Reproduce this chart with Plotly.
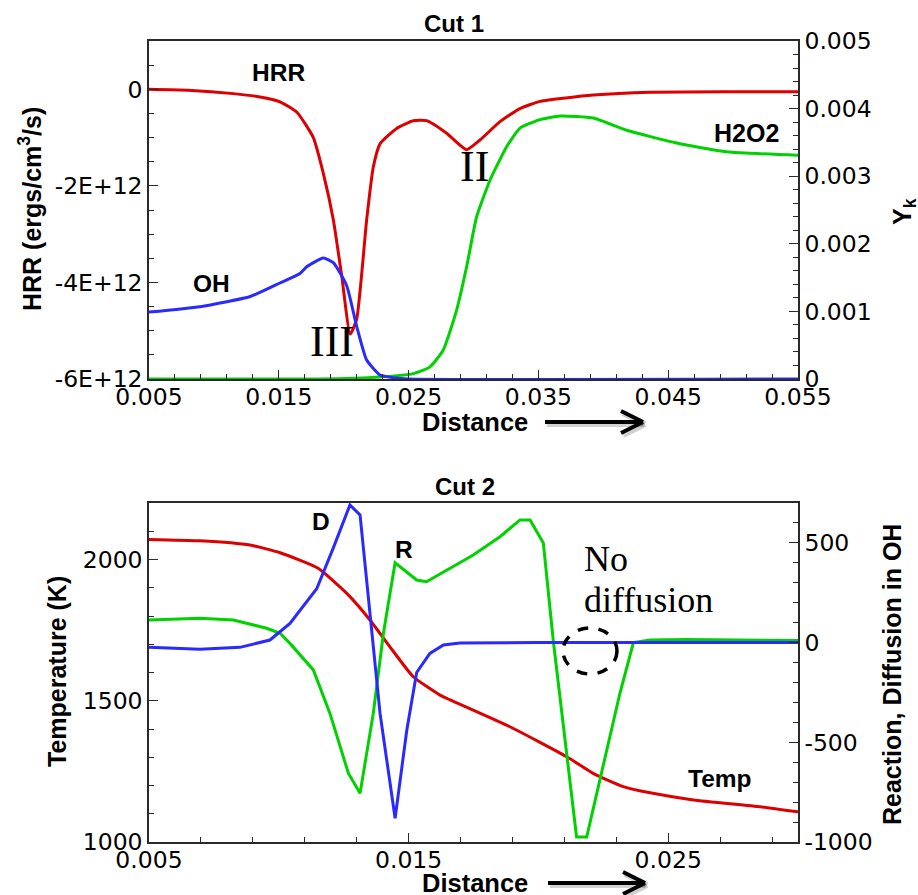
import plotly.graph_objects as go

# ---------------- DATA ----------------
# Cut 1
dist_hrr = [0.005, 0.008, 0.0115, 0.01355, 0.01509, 0.01638, 0.01766, 0.01843, 0.0192,
            0.01985, 0.0205, 0.021, 0.02177, 0.02228, 0.0228, 0.02408, 0.02536, 0.02639,
            0.02793, 0.02947, 0.0305, 0.03204, 0.03358, 0.03512, 0.03923, 0.0436, 0.05, 0.055]
hrr = [0.0, -0.02e12, -0.09e12, -0.16e12, -0.26e12, -0.47e12, -1.0e12, -1.74e12, -2.7e12,
       -3.87e12, -5.07e12, -4.76e12, -2.7e12, -1.61e12, -1.13e12, -0.81e12, -0.65e12, -0.65e12,
       -0.91e12, -1.25e12, -1.05e12, -0.67e12, -0.40e12, -0.25e12, -0.12e12, -0.06e12, -0.05e12, -0.05e12]

dist_h2o2 = [0.005, 0.018, 0.0228, 0.02536, 0.02665, 0.02767, 0.0287, 0.02947, 0.03024, 0.03127,
             0.03256, 0.03358, 0.035, 0.03667, 0.03923, 0.0418, 0.04566, 0.0495, 0.055]
h2o2 = [0.0, 0.0, 0.00003, 0.00008, 0.00018, 0.00043, 0.00102, 0.00166, 0.0024, 0.00294,
        0.00344, 0.00371, 0.00383, 0.00389, 0.00386, 0.00368, 0.00349, 0.00336, 0.00331]

dist_oh = [0.005, 0.00893, 0.0128, 0.01509, 0.01663, 0.01715, 0.01843, 0.0192, 0.02023, 0.021,
           0.02177, 0.0228, 0.0238, 0.025, 0.055]
oh = [0.00099, 0.00107, 0.00122, 0.00142, 0.00156, 0.00166, 0.00179, 0.00172, 0.00138, 0.00078,
      0.00028, 0.00006, 0.00002, 0.0, 0.0]

# Cut 2
dist_temp = [0.005, 0.00696, 0.00889, 0.01005, 0.0115, 0.01262, 0.01351, 0.01428, 0.01518,
             0.01621, 0.0166, 0.0189, 0.02109, 0.02211, 0.02327, 0.0243, 0.02597, 0.02854, 0.03]
temp = [2071, 2066, 2051, 2024, 1970, 1880, 1786, 1691, 1585,
        1520, 1503, 1408, 1302, 1243, 1196, 1174, 1149, 1125, 1107]

dist_reac = [0.005, 0.00696, 0.00825, 0.00953, 0.01005, 0.01043, 0.01133, 0.01197, 0.01268,
             0.01313, 0.01364, 0.01403, 0.01448, 0.01531, 0.01569, 0.0166, 0.01749, 0.01852,
             0.01929, 0.01968, 0.02019, 0.02057, 0.02147, 0.02186, 0.02263, 0.02314, 0.02366,
             0.0243, 0.0257, 0.03]
reaction = [113, 122, 113, 72, 47, -4, -137, -355, -655,
            -756, -355, 47, 400, 314, 305, 372, 439, 531,
            615, 615, 500, 13, -975, -975, -539, -254, 0,
            13, 15, 10]

dist_diff = [0.005, 0.00696, 0.0085, 0.00966, 0.01043, 0.01146, 0.0121, 0.01274, 0.01313,
             0.01351, 0.0139, 0.01448, 0.01493, 0.01531, 0.01582, 0.01634, 0.01698, 0.02, 0.03]
diffusion = [-24, -34, -24, 13, 96, 270, 475, 690, 640,
             130, -355, -881, -440, -150, -54, -12, -2, 0, 0]

# Tick labels
x1_tickvals = [0.005, 0.015, 0.025, 0.035, 0.045, 0.055]
x1_ticktext = ["0.005", "0.015", "0.025", "0.035", "0.045", "0.055"]
y1_tickvals = [0, -2e12, -4e12, -6e12]
y1_ticktext = ["0", "-2E+12", "-4E+12", "-6E+12"]
y2_tickvals = [0, 0.001, 0.002, 0.003, 0.004, 0.005]
y2_ticktext = ["0", "0.001", "0.002", "0.003", "0.004", "0.005"]
x2_tickvals = [0.005, 0.015, 0.025]
x2_ticktext = ["0.005", "0.015", "0.025"]
y3_tickvals = [1000, 1500, 2000]
y3_ticktext = ["1000", "1500", "2000"]
y4_tickvals = [-1000, -500, 0, 500]
y4_ticktext = ["-1000", "-500", "0", "500"]

# ---------------- STYLE ----------------
W, H = 918, 895
RED, GREEN, BLUE = "#dc0000", "#00d200", "#2a2aff"
SANS = "Liberation Sans"
SERIF = "Liberation Serif"
TICKFAM = "DejaVu Sans"
AX = "#2a2a2a"


def px(x):
    return x / W


def py(y):
    return 1 - y / H


fig = go.Figure()
lw = 3
smooth = dict(shape="spline", smoothing=0.5)
fig.add_trace(go.Scatter(x=dist_hrr, y=hrr, mode="lines", line=dict(color=RED, width=lw, **smooth),
                         xaxis="x", yaxis="y"))
fig.add_trace(go.Scatter(x=dist_h2o2, y=h2o2, mode="lines", line=dict(color=GREEN, width=lw, **smooth),
                         xaxis="x", yaxis="y2"))
fig.add_trace(go.Scatter(x=dist_oh, y=oh, mode="lines", line=dict(color=BLUE, width=lw, **smooth),
                         xaxis="x", yaxis="y2"))
fig.add_trace(go.Scatter(x=dist_temp, y=temp, mode="lines", line=dict(color=RED, width=lw, **smooth),
                         xaxis="x2", yaxis="y3"))
fig.add_trace(go.Scatter(x=dist_reac, y=reaction, mode="lines", line=dict(color=GREEN, width=lw),
                         xaxis="x2", yaxis="y4"))
fig.add_trace(go.Scatter(x=dist_diff, y=diffusion, mode="lines", line=dict(color=BLUE, width=lw),
                         xaxis="x2", yaxis="y4"))

tickfont = dict(family=TICKFAM, size=23.5, color="black")
xdom = [px(149), px(798)]
top_dom = [py(379), py(41)]
bot_dom = [py(842), py(503)]

common = dict(showline=True, linecolor=AX, linewidth=1.5, ticks="inside", ticklen=9,
              tickwidth=1.2, tickcolor=AX, showgrid=False, zeroline=False, automargin=False,
              tickfont=tickfont, tickmode="array")
minor_common = dict(ticks="inside", ticklen=5, tickwidth=1.2, tickcolor=AX, showgrid=False)

fig.update_layout(
    width=W, height=H, margin=dict(l=0, r=0, t=0, b=0, autoexpand=False),
    paper_bgcolor="white", plot_bgcolor="white", showlegend=False,
    xaxis=dict(domain=xdom, anchor="y", range=[0.005, 0.055], mirror=True,
               tickvals=x1_tickvals, ticktext=x1_ticktext, ticklabelstandoff=-4,
               minor=dict(tick0=0.005, dtick=0.002, **minor_common), **common),
    yaxis=dict(domain=top_dom, anchor="x", range=[-6e12, 1e12],
               tickvals=y1_tickvals, ticktext=y1_ticktext,
               minor=dict(tick0=0, dtick=0.5e12, **minor_common), **common),
    yaxis2=dict(overlaying="y", side="right", anchor="x", range=[0, 0.005],
                tickvals=y2_tickvals, ticktext=y2_ticktext,
                minor=dict(tick0=0, dtick=0.0002, **minor_common), **common),
    xaxis2=dict(domain=xdom, anchor="y3", range=[0.005, 0.03], mirror=True,
                tickvals=x2_tickvals, ticktext=x2_ticktext, ticklabelstandoff=-4,
                minor=dict(tick0=0.005, dtick=0.002, **minor_common), **common),
    yaxis3=dict(domain=bot_dom, anchor="x2", range=[1000, 2200],
                tickvals=y3_tickvals, ticktext=y3_ticktext,
                minor=dict(tick0=1000, dtick=100, **minor_common), **common),
    yaxis4=dict(overlaying="y3", side="right", anchor="x2", range=[-1000, 700],
                tickvals=y4_tickvals, ticktext=y4_ticktext,
                minor=dict(tick0=-1000, dtick=100, **minor_common), **common),
)


def label(text, x, y, size=24, family=SANS, bold=True, angle=0, xanchor="center"):
    fig.add_annotation(text=text, x=px(x), y=py(y), xref="paper", yref="paper",
                       xanchor=xanchor, yanchor="middle", showarrow=False, textangle=angle,
                       font=dict(family=family, size=size, color="black",
                                 weight="bold" if bold else "normal"))


# Cut 1 labels
label("Cut 1", 454, 24, size=24)
label("HRR", 278, 73, size=24.5)
label("OH", 211, 283, size=24.5)
label("H2O2", 746, 133, size=25)
label("III", 332, 342, size=44, family=SERIF, bold=False)
label("II", 474, 167, size=44, family=SERIF, bold=False)
label("HRR (ergs/cm<sup>3</sup>/s)", 30, 209, size=25, angle=-90)
label("Y<sub>k</sub>", 904, 212, size=25, angle=-90)
label("Distance", 475, 422, size=25.5)

# Cut 2 labels
label("Cut 2", 465, 486, size=24)
label("D", 321, 521, size=24.5)
label("R", 404, 549, size=24.5)
label("Temp", 720, 778, size=24.5)
label("No", 582, 559, size=36, family=SERIF, bold=False, xanchor="left")
label("diffusion", 582, 600, size=36, family=SERIF, bold=False, xanchor="left")
label("Temperature (K)", 57, 672, size=25, angle=-90)
label("Reaction, Diffusion in OH", 892, 675, size=25, angle=-90)
label("Distance", 475, 883, size=25.5)


def arrow(x0, x1, y):
    for dx, dy, col, w in [(2, 2, "rgba(0,0,0,0.18)", 6), (0, 0, "black", 4)]:
        fig.add_shape(type="line", xref="paper", yref="paper",
                      x0=px(x0 + dx), x1=px(x1 - 2 + dx), y0=py(y + dy), y1=py(y + dy),
                      line=dict(color=col, width=w))
        fig.add_shape(type="line", xref="paper", yref="paper",
                      x0=px(x1 - 22 + dx), x1=px(x1 + dx), y0=py(y - 11 + dy), y1=py(y + dy),
                      line=dict(color=col, width=w))
        fig.add_shape(type="line", xref="paper", yref="paper",
                      x0=px(x1 - 22 + dx), x1=px(x1 + dx), y0=py(y + 11 + dy), y1=py(y + dy),
                      line=dict(color=col, width=w))


arrow(545, 643, 422)
arrow(548, 645, 883)

# dashed ellipse "No diffusion"
fig.add_shape(type="circle", xref="paper", yref="paper",
              x0=px(563), x1=px(617), y0=py(674), y1=py(628),
              line=dict(color="black", width=3.5, dash="dash"))

fig.write_html("out.html", config={"displayModeBar": False},
               post_script="document.body.style.margin='0';document.body.style.overflow='hidden';")
